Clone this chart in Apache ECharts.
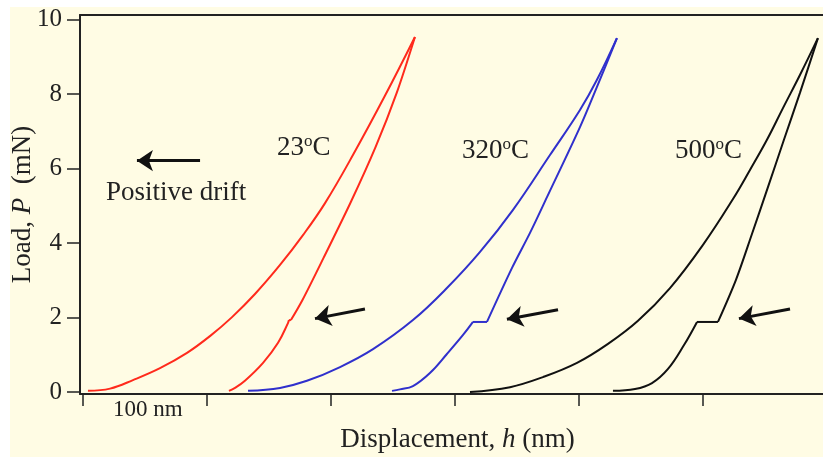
<!DOCTYPE html>
<html>
<head>
    <meta charset="utf-8">
    <script src="https://cdn.jsdelivr.net/npm/echarts@6/dist/echarts.min.js"></script>
    <style>
        body, html {
            margin: 0;
            height: 100%;
            background: #fff;
        }
        #main {
            width: 823px;
            height: 457px;
        }
    </style>
</head>
<body>
<div id="main"></div>

<script>
    // displacement h (nm) and load P (mN)
    // loading branches
    var h23L = [4.0, 21.8, 40.3, 62.1, 83.9, 102.4, 120.2, 138.7, 158.9, 177.4, 195.2, 217.7, 243.5, 267.7];
    var p23L = [0.03, 0.09, 0.32, 0.64, 1.05, 1.50, 2.01, 2.63, 3.41, 4.21, 5.07, 6.36, 7.95, 9.53];
    var h320L = [133.1, 158.9, 180.6, 207.3, 233.9, 266.1, 293.5, 320.2, 346.8, 376.6, 400.8, 414.5, 430.6];
    var p320L = [0.03, 0.11, 0.30, 0.67, 1.15, 1.93, 2.79, 3.76, 4.89, 6.36, 7.57, 8.38, 9.50];
    var h500L = [312.1, 344.4, 371.0, 398.4, 423.4, 447.6, 473.4, 500.0, 524.2, 537.9, 551.6, 564.5, 578.2, 592.7];
    var p500L = [0.00, 0.13, 0.40, 0.78, 1.29, 1.91, 2.79, 3.95, 5.18, 5.96, 6.77, 7.62, 8.51, 9.50];

    // unloading branches (with the hold at ~1.9 mN)
    var h23U = [267.7, 253.0, 236.0, 216.0, 194.0, 177.0, 167.7, 166.1, 165.3, 157.3, 145.2, 130.6, 122.6, 117.7];
    var p23U = [9.53, 8.03, 6.58, 5.10, 3.60, 2.47, 1.93, 1.93, 1.85, 1.32, 0.78, 0.30, 0.11, 0.03];
    var h320U = [430.6, 414.5, 400.8, 374.2, 360.5, 346.0, 325.8, 314.5, 306.5, 293.5, 279.8, 266.1, 255.6, 249.2];
    var p320U = [9.50, 8.19, 7.11, 5.23, 4.27, 3.33, 1.88, 1.88, 1.53, 1.02, 0.51, 0.16, 0.07, 0.03];
    var h500U = [592.7, 578.2, 565.3, 552.4, 539.5, 526.6, 512.1, 495.2, 484.7, 471.8, 458.9, 445.2, 427.4];
    var p500U = [9.50, 8.03, 6.77, 5.50, 4.24, 3.01, 1.88, 1.88, 1.26, 0.62, 0.24, 0.08, 0.03];

    var xTicks = [0, 100, 200, 300, 400, 500];
    var yTicks = [0, 2, 4, 6, 8, 10];

    // arrows: [tail h, tail P, tip h, tip P]
    var arrows = [
        [94.4, 6.21, 43.5, 6.21],
        [227.4, 2.23, 187.1, 1.97],
        [383.1, 2.21, 341.9, 1.95],
        [570.2, 2.23, 529.0, 1.97]
    ];

    function pairs(h, p) {
        return h.map(function (v, i) { return [v, p[i]]; });
    }

    var serif = 'Liberation Serif';
    var ink = '#222';
    var tempRich = {
        n: {fontFamily: serif, fontSize: 27, fill: ink},
        s: {fontFamily: serif, fontSize: 17, fill: ink, padding: [0, 0, 12, 0]}
    };

    function line(data, color, smooth) {
        return {
            type: 'line',
            data: data,
            symbol: 'none',
            smooth: smooth,
            lineStyle: {color: color, width: 2},
            silent: true
        };
    }

    // loading curve, then the unloading curve cut at the hold so its corners stay sharp
    function cycle(hL, pL, hU, pU, color) {
        var u = pairs(hU, pU);
        var k = 1;
        while (k < u.length - 1 && u[k][1] !== u[k + 1][1]) k++;
        return [
            line(pairs(hL, pL), color, 0.4),
            line(u.slice(0, k + 1), color, 0.3),
            line(u.slice(k, k + 2), color, false),
            line(u.slice(k + 1), color, 0.4)
        ];
    }

    var series = [].concat(
        cycle(h23L, p23L, h23U, p23U, '#ff2a1c'),
        cycle(h320L, p320L, h320U, p320U, '#3030cc'),
        cycle(h500L, p500L, h500U, p500U, '#111')
    );
    series[0].markLine = {
        silent: true,
        symbol: ['none', 'arrow'],
        symbolSize: 16,
        label: {show: false},
        lineStyle: {color: '#111', width: 3, type: 'solid'},
        data: arrows.map(function (a) {
            return [{coord: [a[0], a[1]]}, {coord: [a[2], a[3]]}];
        })
    };

    var myChart = echarts.init(document.getElementById('main'));
    var option = {
        backgroundColor: '#fffce4',
        animation: false,
        grid: {left: 80, top: 15, right: 0, bottom: 63, outerBoundsMode: 'none'},
        xAxis: [{
            type: 'value',
            min: -2.42,
            max: 596.8,
            name: 'Displacement, {i|h} (nm)',
            nameLocation: 'middle',
            nameGap: 32,
            nameTextStyle: {
                fontFamily: serif, fontSize: 27, color: ink, padding: [0, 0, 0, 12],
                rich: {i: {fontFamily: serif, fontSize: 27, color: ink, fontStyle: 'italic'}}
            },
            axisLine: {onZero: false, lineStyle: {color: ink, width: 2}},
            axisTick: {customValues: xTicks, length: 12, lineStyle: {color: ink, width: 1.5}},
            axisLabel: {show: false},
            splitLine: {show: false}
        }, {
            type: 'value',
            position: 'top',
            min: -2.42,
            max: 596.8,
            axisLine: {onZero: false, lineStyle: {color: ink, width: 2}},
            axisTick: {show: false},
            axisLabel: {show: false},
            splitLine: {show: false}
        }],
        yAxis: {
            type: 'value',
            min: -0.054,
            max: 10.12,
            name: 'Load, {i|P}  (mN)',
            nameLocation: 'middle',
            nameGap: 44,
            nameMoveOverlap: false,
            nameTextStyle: {
                fontFamily: serif, fontSize: 27, color: ink,
                rich: {i: {fontFamily: serif, fontSize: 27, color: ink, fontStyle: 'italic'}}
            },
            axisLine: {onZero: false, lineStyle: {color: ink, width: 2}},
            axisTick: {customValues: yTicks, length: 13, lineStyle: {color: ink, width: 1.5}},
            axisLabel: {customValues: yTicks, margin: 18, fontFamily: serif, fontSize: 25, color: ink},
            splitLine: {show: false}
        },
        series: series,
        graphic: [
            {type: 'rect', silent: true, shape: {x: 0, y: 0, width: 823, height: 7}, style: {fill: '#fff'}},
            {type: 'rect', silent: true, shape: {x: 0, y: 0, width: 10, height: 457}, style: {fill: '#fff'}},
            {type: 'text', x: 106, y: 193, style: {text: 'Positive drift', font: '27px "Liberation Serif"', fill: ink, textVerticalAlign: 'middle'}},
            {type: 'text', x: 113, y: 410, style: {text: '100 nm', font: '23px "Liberation Serif"', fill: ink, textVerticalAlign: 'middle'}},
            {type: 'text', x: 277, y: 148, style: {text: '{n|23}{s|o}{n|C}', rich: tempRich, textVerticalAlign: 'middle'}},
            {type: 'text', x: 462, y: 151, style: {text: '{n|320}{s|o}{n|C}', rich: tempRich, textVerticalAlign: 'middle'}},
            {type: 'text', x: 675, y: 151, style: {text: '{n|500}{s|o}{n|C}', rich: tempRich, textVerticalAlign: 'middle'}}
        ]
    };
    myChart.setOption(option);
    window.onresize = myChart.resize;
</script>
</body>
</html>
